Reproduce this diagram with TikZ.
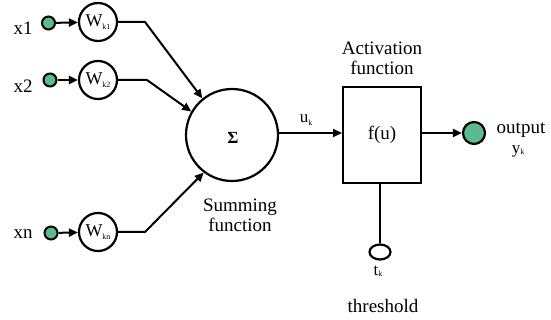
\documentclass[tikz,border=0pt]{standalone}
\usepackage{fontspec}
\setmainfont{Liberation Serif}
\usetikzlibrary{arrows.meta,shapes.geometric}
\definecolor{mygreen}{RGB}{92,186,146}
\begin{document}
\begin{tikzpicture}[x=1pt,y=-1pt,
  txt/.style={font=\fontsize{19}{20}\selectfont, inner sep=0, align=center},
  wnode/.style={circle, draw, line width=2.2pt, minimum size=38pt, inner sep=0, font=\fontsize{18}{18}\selectfont},
  indot/.style={circle, draw, line width=2pt, fill=mygreen, minimum size=13pt, inner sep=0},
  conn/.style={line width=2pt, -{Triangle[length=9pt,width=8pt]}},
  plain/.style={line width=2.2pt},
]
\useasboundingbox (0,0) rectangle (551,320);
% inputs
\node[indot] (d1) at (48.5,23) {};
\node[indot] (d2) at (50,80) {};
\node[indot] (dn) at (51,233) {};
\node[wnode] (w1) at (98,22) {W\raisebox{-0.3ex}{\fontsize{8}{8}\selectfont k1}};
\node[wnode] (w2) at (98,80) {W\raisebox{-0.3ex}{\fontsize{8}{8}\selectfont k2}};
\node[wnode] (wn) at (98,232) {W\raisebox{-0.3ex}{\fontsize{8}{8}\selectfont kn}};
\node[txt, anchor=base] (lx1) at (23,35) {x1};
\node[txt, anchor=base] (lx2) at (23,93) {x2};
\node[txt, anchor=base] (lxn) at (23,239) {xn};
\draw[conn] (d1) -- (w1);
\draw[conn] (d2) -- (w2);
\draw[conn] (dn) -- (wn);
% summing
\node[circle, draw, line width=2.2pt, minimum size=92pt, inner sep=0] (sum) at (232,135) {};
\node[font=\fontsize{17}{17}\selectfont\bfseries, inner sep=0] (sig) at (233,138) {Σ};
\coordinate (c1) at (145,22);
\coordinate (c2) at (147,80);
\coordinate (cn) at (145,232);
\draw[conn] (w1.east) -- (c1) -- (sum.129);
\draw[conn] (w2.east) -- (c2) -- (sum.150);
\draw[conn] (wn.east) -- (cn) -- (sum.233);
\node[txt] (summ) at (240,215) {Summing\\function};
% activation
\node[draw, line width=2pt, minimum width=78pt, minimum height=96pt, inner sep=0] (box) at (382,135) {};
\node[txt] (fu) at (382,135) {f(u)};
\node[txt] (act) at (382,58) {Activation\\function};
\draw[conn] (sum.east |- 0,133) -- (box.west |- 0,133);
\node[font=\fontsize{17}{17}\selectfont, inner sep=0] (uk) at (306,120) {u\raisebox{-0.3ex}{\fontsize{8}{8}\selectfont k}};
% output
\node[circle, draw, line width=2.2pt, fill=mygreen, minimum size=22pt, inner sep=0] (out) at (474,133) {};
\draw[conn] (box.east |- out) -- (out);
\node[txt] (outl) at (521,130) {output};
\node[font=\fontsize{17}{17}\selectfont, inner sep=0] (yk) at (518,151) {y\raisebox{-0.2ex}{\fontsize{8}{8}\selectfont k}};
% threshold
\node[ellipse, draw, line width=2.2pt, minimum width=21pt, minimum height=15pt, inner sep=0] (th) at (380,252) {};
\draw[plain] (th.north) -- (th.north |- box.south);
\node[font=\fontsize{17}{17}\selectfont, inner sep=0] (tk) at (378,271) {t\raisebox{-0.2ex}{\fontsize{8}{8}\selectfont k}};
\node[txt] (thl) at (383,306) {threshold};
\end{tikzpicture}
\end{document}
